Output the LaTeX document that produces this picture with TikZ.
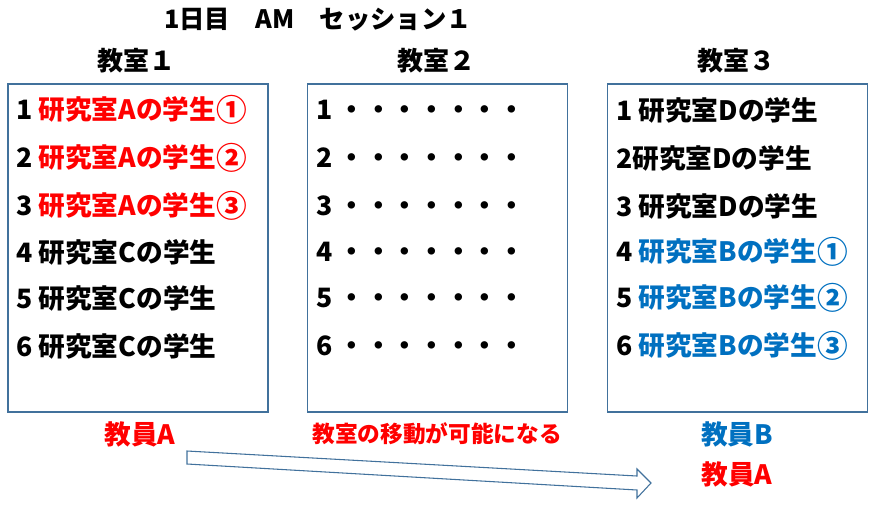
\documentclass[tikz,border=0pt]{standalone}
\usepackage{fontspec}
\setmainfont{Noto Sans CJK JP}
\usetikzlibrary{positioning}
\definecolor{labRed}{RGB}{255,0,0}
\definecolor{labBlue}{RGB}{0,112,192}
\definecolor{roomFrame}{RGB}{65,113,156}
\newcommand{\circno}[1]{\raisebox{-0.08em}{\scalebox{1.15}{#1}}}

\begin{document}
\begin{tikzpicture}[
    x=0.75pt, y=-0.75pt,
    room/.style={rectangle, draw=roomFrame, line width=0.9pt,
                 minimum width=195pt, minimum height=246pt, inner sep=0pt},
    head/.style={font=\fontsize{19.5}{22}\selectfont\bfseries},
    entry/.style={anchor=west, inner sep=0pt, font=\fontsize{20}{24}\selectfont\bfseries},
    note/.style={font=\fontsize{20}{24}\selectfont\bfseries}
  ]
  \useasboundingbox (0,0) rectangle (875,508);

  \node[font=\fontsize{19}{22}\selectfont\bfseries] (title) at (318,20) {1日目　AM　セッション１};

  \node[head] (h1) at (136,61) {教室１};
  \node[head] (h2) at (436,61) {教室２};
  \node[head] (h3) at (736,61) {教室３};

  \node[room] (room1) at (138,248) {};
  \node[room] (room2) at (437.5,248) {};
  \node[room] (room3) at (737.5,248) {};

  % classroom 1
  \node[entry] (r11) at (16,110) {1 \textcolor{labRed}{研究室Aの学生\circno{①}}};
  \node[entry] (r12) at (16,158) {2 \textcolor{labRed}{研究室Aの学生\circno{②}}};
  \node[entry] (r13) at (16,206) {3 \textcolor{labRed}{研究室Aの学生\circno{③}}};
  \node[entry] (r14) at (16,252) {4 研究室Cの学生};
  \node[entry] (r15) at (16,298) {5 研究室Cの学生};
  \node[entry] (r16) at (16,346) {6 研究室Cの学生};

  % classroom 2
  \node[entry] (r21) at (316,110) {1 ・・・・・・・};
  \node[entry] (r22) at (316,158) {2 ・・・・・・・};
  \node[entry] (r23) at (316,206) {3 ・・・・・・・};
  \node[entry] (r24) at (316,252) {4 ・・・・・・・};
  \node[entry] (r25) at (316,298) {5 ・・・・・・・};
  \node[entry] (r26) at (316,346) {6 ・・・・・・・};

  % classroom 3
  \node[entry] (r31) at (616,110) {1 研究室Dの学生};
  \node[entry] (r32) at (616,158) {2研究室Dの学生};
  \node[entry] (r33) at (616,206) {3 研究室Dの学生};
  \node[entry] (r34) at (616,252) {4 \textcolor{labBlue}{研究室Bの学生\circno{①}}};
  \node[entry] (r35) at (616,298) {5 \textcolor{labBlue}{研究室Bの学生\circno{②}}};
  \node[entry] (r36) at (616,346) {6 \textcolor{labBlue}{研究室Bの学生\circno{③}}};

  \node[note, labRed]  (tA)   at (140,434) {教員A};
  \node[note, labRed, font=\fontsize{17}{20}\selectfont\bfseries]
                       (move) at (437,434) {教室の移動が可能になる};
  \node[note, labBlue] (tB)   at (737,434) {教員B};
  \node[note, labRed]  (tA2)  at (737,474) {教員A};

  % block arrow
  \draw[roomFrame, line width=0.8pt, fill=white, line join=miter]
    (187,451) -- (637,476) -- (637,469) -- (651,483) -- (637,498)
    -- (637,490) -- (187,464) -- cycle;
\end{tikzpicture}
\end{document}
